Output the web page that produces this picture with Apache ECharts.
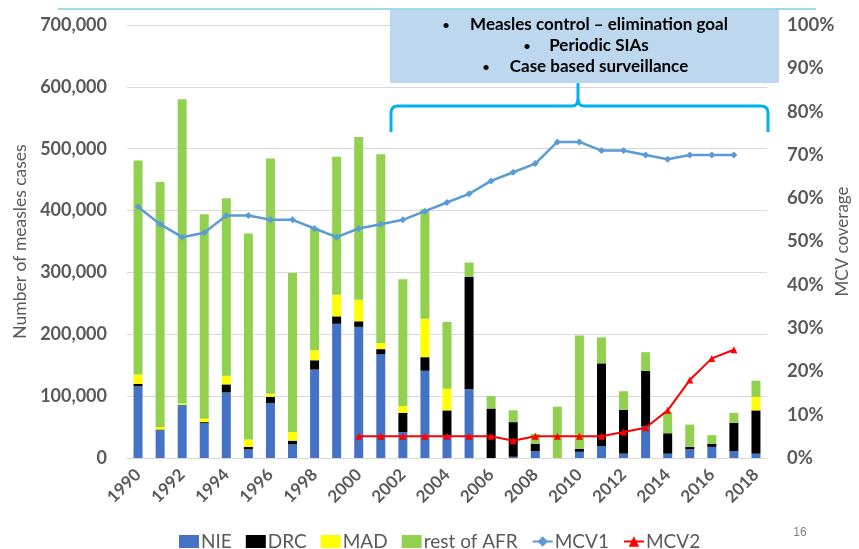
<!DOCTYPE html>
<html>
<head>
<meta charset="utf-8">
<script src="https://cdn.jsdelivr.net/npm/echarts@6/dist/echarts.min.js"></script>
<style>
html,body{margin:0;padding:0;background:#fff;}
#chart{width:859px;height:549px;}
</style>
</head>
<body>
<div id="chart"></div>
<script>
const years = ['1990','1991','1992','1993','1994','1995','1996','1997','1998','1999','2000','2001','2002','2003','2004','2005','2006','2007','2008','2009','2010','2011','2012','2013','2014','2015','2016','2017','2018'];
const nie = [116000,45000,86000,56000,106000,14000,89000,22000,143000,217000,212000,168000,42000,141000,37000,111000,0,2000,11000,0,10000,19000,7000,51000,7000,14000,18000,11000,7000];
const drc = [4000,1000,0,2000,13000,4000,10000,6000,15000,12000,9000,8000,31000,22000,40000,182000,80000,56000,12000,0,5000,134000,71000,90000,33000,4000,5000,46000,70000];
const mad = [15000,4000,2000,6000,14000,12000,5000,14000,16000,35000,35000,10000,11000,62000,35000,0,0,0,0,0,0,0,0,0,0,0,0,0,22000];
const restAfr = [346000,396000,492000,330000,287000,333000,380000,257000,198000,223000,263000,305000,205000,177000,108000,23000,20000,19000,16000,83000,183000,42000,30000,30000,34000,36000,14000,16000,26000];
const mcv1 = [0.58,0.54,0.51,0.52,0.56,0.56,0.55,0.55,0.53,0.51,0.53,0.54,0.55,0.57,0.59,0.61,0.64,0.66,0.68,0.73,0.73,0.71,0.71,0.70,0.69,0.70,0.70,0.70,null];
const mcv2 = [null,null,null,null,null,null,null,null,null,null,0.05,0.05,0.05,0.05,0.05,0.05,0.05,0.04,0.05,0.05,0.05,0.05,0.06,0.07,0.11,0.18,0.23,0.25,null];
const boxLines = ['Measles control \u2013 elimination goal','Periodic SIAs','Case based surveillance'];

const FONT = 'Lato, "Open Sans", sans-serif';
const GRAY = '#595959';
const chart = echarts.init(document.getElementById('chart'), null, {renderer:'canvas'});

function fmt(v){return v.toString().replace(/\B(?=(\d{3})+(?!\d))/g, ',');}

const barSeries = (name, data, color) => ({
  name, type:'bar', stack:'cases', data, barWidth:9,
  itemStyle:{color}, emphasis:{disabled:true}, yAxisIndex:0
});

const BR = {stroke:'#00B0F0', lineWidth:3, fill:null};
const seg = (x1,y1,x2,y2) => ({type:'line', shape:{x1,y1,x2,y2}, style:BR, z:11});
const crv = (x1,y1,cx,cy,x2,y2) => ({type:'bezierCurve', shape:{x1,y1,x2,y2,cpx1:cx,cpy1:cy}, style:BR, z:11});

const option = {
  animation:false,
  textStyle:{fontFamily:FONT},
  grid:{left:127, right:92, top:25, bottom:91, containLabel:false, outerBoundsMode:'none'},
  legend:{
    left:174, top:527, itemWidth:20, itemHeight:13, itemGap:14,
    textStyle:{fontFamily:FONT, fontSize:19, color:GRAY, padding:[0,0,0,-3]},
    data:[
      {name:'NIE', icon:'rect'},{name:'DRC', icon:'rect'},{name:'MAD', icon:'rect'},{name:'rest of AFR', icon:'rect'},
      {name:'MCV1'},{name:'MCV2'}
    ]
  },
  xAxis:{
    type:'category', data:years,
    axisLine:{show:true, lineStyle:{color:'#D9D9D9'}},
    axisTick:{show:false},
    axisLabel:{interval:1, rotate:45, color:GRAY, fontWeight:'bold', fontSize:17, fontFamily:FONT, margin:14}
  },
  yAxis:[
    {
      type:'value', min:0, max:700000, interval:100000,
      name:'Number of measles cases', nameLocation:'middle', nameRotate:90, nameGap:85,
      nameTextStyle:{color:GRAY, fontSize:17.5, fontFamily:FONT},
      axisLabel:{color:GRAY, fontWeight:'bold', fontSize:18, fontFamily:FONT, margin:20, formatter:v=>fmt(v)},
      axisLine:{show:false}, axisTick:{show:false},
      splitLine:{lineStyle:{color:'#D9D9D9', width:1}}
    },
    {
      type:'value', min:0, max:1, interval:0.1,
      name:'MCV coverage', nameLocation:'middle', nameRotate:90, nameGap:67, nameMoveOverlap:false,
      nameTextStyle:{color:GRAY, fontSize:17, fontFamily:FONT},
      axisLabel:{color:GRAY, fontWeight:'bold', fontSize:18.5, fontFamily:FONT, margin:20, formatter:v=>Math.round(v*100)+'%'},
      axisLine:{show:false}, axisTick:{show:false}, splitLine:{show:false}
    }
  ],
  series:[
    barSeries('NIE', nie, '#4472C4'),
    barSeries('DRC', drc, '#000000'),
    barSeries('MAD', mad, '#FFFF00'),
    barSeries('rest of AFR', restAfr, '#92D050'),
    {
      name:'MCV1', type:'line', yAxisIndex:1, data:mcv1,
      symbol:'diamond', symbolSize:7, showAllSymbol:true,
      lineStyle:{color:'#5B9BD5', width:2.5}, itemStyle:{color:'#5B9BD5'},
      emphasis:{disabled:true}
    },
    {
      name:'MCV2', type:'line', yAxisIndex:1, data:mcv2,
      symbol:'triangle', symbolSize:7, showAllSymbol:true,
      lineStyle:{color:'#FF0000', width:2}, itemStyle:{color:'#FF0000'},
      emphasis:{disabled:true}
    }
  ],
  graphic:[
    {type:'line', shape:{x1:58, y1:9, x2:816, y2:9}, style:{stroke:'#3DB0D6', lineWidth:1}, z:10},
    {type:'rect', shape:{x:390, y:10, width:389, height:73}, style:{fill:'#BDD7EE'}, z:10},
    {type:'text', x:599, y:25, style:{text:boxLines[0], fontFamily:FONT, fontWeight:'bold', fontSize:17, fill:'#000', align:'center', verticalAlign:'middle'}, z:11},
    {type:'text', x:599, y:46, style:{text:boxLines[1], fontFamily:FONT, fontWeight:'bold', fontSize:17, fill:'#000', align:'center', verticalAlign:'middle'}, z:11},
    {type:'text', x:599, y:67, style:{text:boxLines[2], fontFamily:FONT, fontWeight:'bold', fontSize:17, fill:'#000', align:'center', verticalAlign:'middle'}, z:11},
    {type:'text', x:446, y:25, style:{text:'\u2022', fontFamily:FONT, fontSize:14, fill:'#000', align:'center', verticalAlign:'middle'}, z:11},
    {type:'text', x:527, y:46, style:{text:'\u2022', fontFamily:FONT, fontSize:14, fill:'#000', align:'center', verticalAlign:'middle'}, z:11},
    {type:'text', x:486, y:67, style:{text:'\u2022', fontFamily:FONT, fontSize:14, fill:'#000', align:'center', verticalAlign:'middle'}, z:11},
    seg(391,132,391,113), crv(391,113,391,106,398,106), seg(398,106,572,106), crv(572,106,578,106,578,99),
    seg(578,99,578,83), crv(578,99,578,106,584,106), seg(584,106,761,106), crv(761,106,768,106,768,113), seg(768,113,768,132),
    {type:'text', x:800, y:533, style:{text:'16', fontFamily:'"Liberation Sans", Arial, sans-serif', fontSize:12, fill:'#7F7F7F', align:'center', verticalAlign:'middle'}, z:11}
  ]
};
chart.setOption(option);
</script>
</body>
</html>
